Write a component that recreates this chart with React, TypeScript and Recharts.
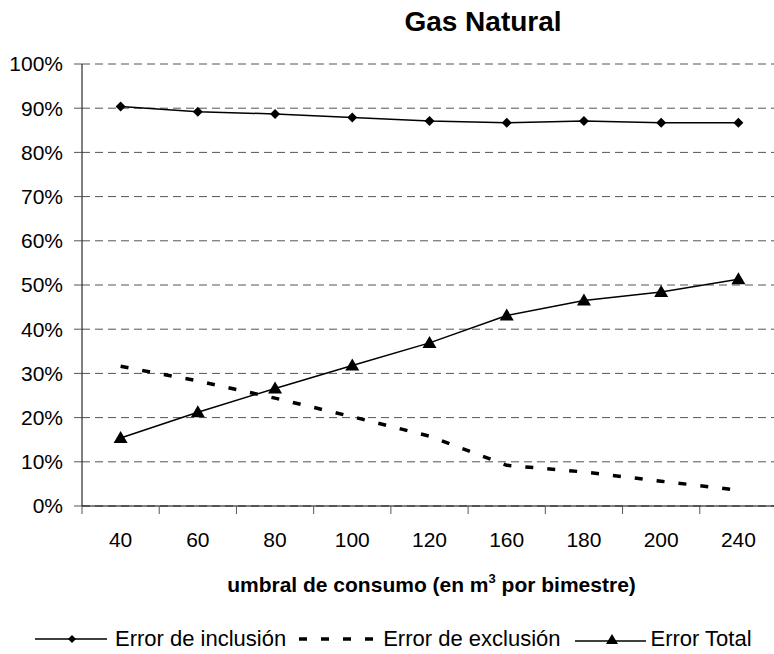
import React from 'react';
import { LineChart, Line, XAxis, YAxis, CartesianGrid, Legend } from 'recharts';

const FONT = '"Liberation Sans", Arial, sans-serif';

const categories = ['40', '60', '80', '100', '120', '160', '180', '200', '240'];
const inclusion = [90.4, 89.2, 88.7, 87.9, 87.1, 86.7, 87.1, 86.7, 86.7];
const exclusion = [31.6, 28.3, 24.4, 20.2, 15.8, 9.2, 7.7, 5.6, 3.6];
const total = [15.4, 21.2, 26.6, 31.8, 36.9, 43.1, 46.5, 48.4, 51.3];
const yTicks = [0, 10, 20, 30, 40, 50, 60, 70, 80, 90, 100];
const boundaryTicks = [0, 1, 2, 3, 4, 5, 6, 7, 8, 9];

const data = categories.map((c, i) => ({
  cat: c,
  pos: i + 0.5,
  inclusion: inclusion[i],
  exclusion: exclusion[i],
  total: total[i],
}));

// half a category step, so the points sit in the middle of each band
const HALF_STEP = 38.6;

const Diamond = ({ cx, cy, index }: any) => {
  if (cx == null || cy == null) return <g key={index} />;
  return (
    <polygon
      key={index}
      points={`${cx},${cy - 5} ${cx + 5},${cy} ${cx},${cy + 5} ${cx - 5},${cy}`}
      fill="#000"
    />
  );
};

const Triangle = ({ cx, cy, index }: any) => {
  if (cx == null || cy == null) return <g key={index} />;
  return (
    <polygon
      key={index}
      points={`${cx},${cy - 7} ${cx + 7},${cy + 5} ${cx - 7},${cy + 5}`}
      fill="#000"
    />
  );
};

const AxisTitle = ({ viewBox }: any) => {
  const cx = viewBox.x + viewBox.width / 2 + 2;
  return (
    <text x={cx} y={592} textAnchor="middle" fontFamily={FONT} fontSize={21} fontWeight="bold" fill="#000">
      umbral de consumo (en m
      <tspan dy={-9} fontSize={13}>3</tspan>
      <tspan dy={9}> por bimestre)</tspan>
    </text>
  );
};

const renderLegend = () => (
  <div
    style={{
      width: 774,
      height: 36,
      display: 'flex',
      alignItems: 'center',
      paddingLeft: 35,
      paddingTop: 6,
      boxSizing: 'border-box',
      fontFamily: FONT,
      fontSize: 22,
      color: '#000',
      whiteSpace: 'nowrap',
    }}
  >
    <svg width={72} height={14} style={{ marginRight: 8 }}>
      <line x1={0} y1={7} x2={72} y2={7} stroke="#000" strokeWidth={1.5} />
      <polygon points="37,3 41,7 37,11 33,7" fill="#000" />
    </svg>
    <span style={{ marginRight: 13 }}>Error de inclusión</span>
    <svg width={80} height={14} style={{ marginRight: 4 }}>
      <line x1={0} y1={7} x2={80} y2={7} stroke="#000" strokeWidth={3.5} strokeDasharray="8 14" />
    </svg>
    <span style={{ marginRight: 14 }}>Error de exclusión</span>
    <svg width={71} height={14} style={{ marginRight: 5 }}>
      <line x1={0} y1={9} x2={71} y2={9} stroke="#000" strokeWidth={1.5} />
      <polygon points="37,2 43,12 31,12" fill="#000" />
    </svg>
    <span>Error Total</span>
  </div>
);

export default function App() {
  return (
    <div style={{ position: 'absolute', left: 0, top: 0, width: 774, height: 654, background: '#fff', overflow: 'hidden' }}>
      <div
        style={{
          position: 'absolute',
          left: 383,
          top: 8,
          width: 200,
          textAlign: 'center',
          fontFamily: FONT,
          fontSize: 28,
          lineHeight: '28px',
          fontWeight: 'bold',
        }}
      >
        Gas Natural
      </div>
      <LineChart width={774} height={654} data={data} margin={{ top: 64, right: -3, left: 0, bottom: 0 }}>
        <CartesianGrid xAxisId="cat" vertical={false} stroke="#555" strokeDasharray="8 5" />
        <XAxis
          xAxisId="bounds"
          dataKey="pos"
          type="number"
          domain={[0, 9]}
          ticks={boundaryTicks}
          interval={0}
          allowDataOverflow
          height={1}
          tick={(p: any) => <g key={p.index} />}
          tickSize={8}
          tickLine={{ stroke: '#555' }}
          axisLine={{ stroke: '#000' }}
        />
        <XAxis
          xAxisId="cat"
          dataKey="cat"
          height={111}
          padding={{ left: HALF_STEP, right: HALF_STEP }}
          axisLine={false}
          tickLine={{ stroke: 'none' }}
          tickSize={6}
          tickMargin={19}
          interval={0}
          tick={{ fontFamily: FONT, fontSize: 21, fill: '#000' }}
          label={<AxisTitle />}
        />
        <YAxis
          width={82}
          domain={[0, 100]}
          ticks={yTicks}
          interval={0}
          tickFormatter={(v) => `${v}%`}
          tickSize={8}
          tickMargin={11}
          axisLine={{ stroke: '#000' }}
          tickLine={{ stroke: '#555' }}
          tick={{ fontFamily: FONT, fontSize: 21, fill: '#000' }}
        />
        <Legend verticalAlign="bottom" height={36} content={renderLegend} wrapperStyle={{ left: 0, bottom: 0, width: 774 }} />
        <Line
          xAxisId="cat"
          dataKey="inclusion"
          name="Error de inclusión"
          stroke="#000"
          strokeWidth={1.5}
          dot={(p: any) => <Diamond {...p} key={p.index} />}
          isAnimationActive={false}
        />
        <Line
          xAxisId="cat"
          dataKey="exclusion"
          name="Error de exclusión"
          stroke="#000"
          strokeWidth={3.5}
          strokeDasharray="8 14"
          dot={false}
          isAnimationActive={false}
        />
        <Line
          xAxisId="bounds"
          dataKey="total"
          name="Error Total"
          stroke="#000"
          strokeWidth={1.5}
          dot={(p: any) => <Triangle {...p} key={p.index} />}
          isAnimationActive={false}
        />
      </LineChart>
    </div>
  );
}
